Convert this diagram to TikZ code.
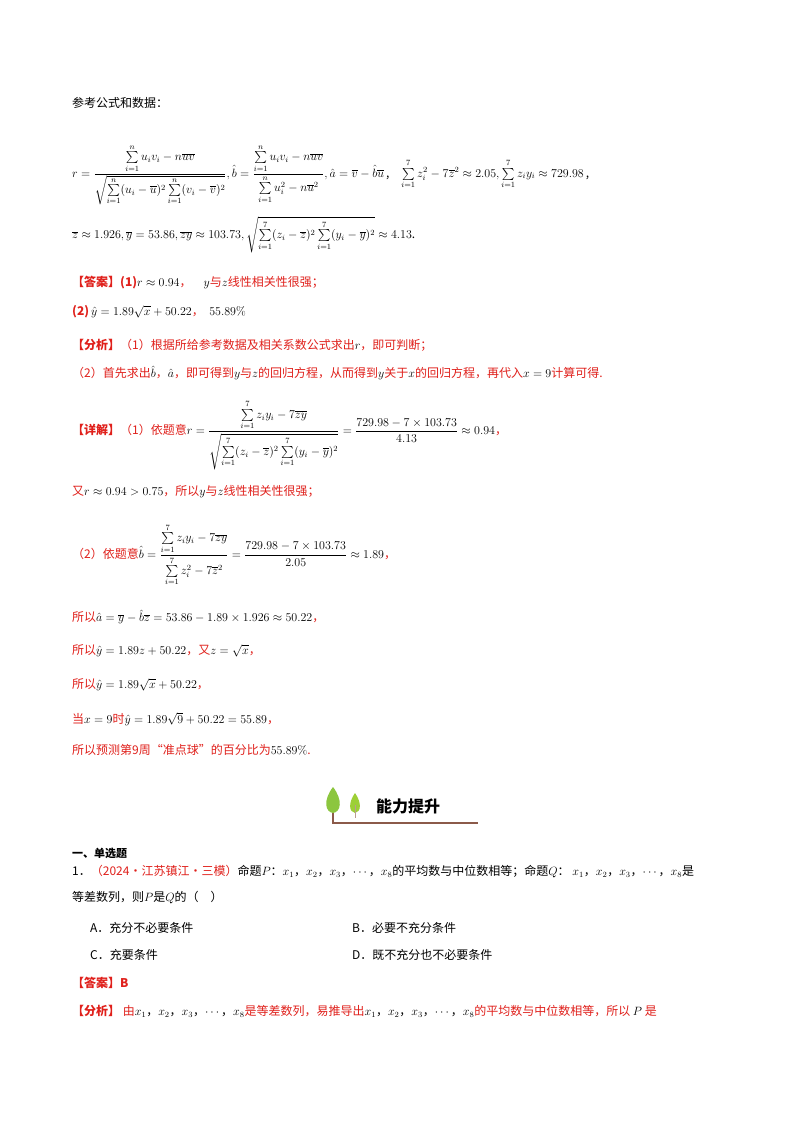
\documentclass[tikz,border=0pt]{standalone}
\usepackage{amsmath}
\usepackage[no-math]{fontspec}
\setmainfont{Noto Sans CJK SC}
\definecolor{rd}{HTML}{E0201B}
\definecolor{lf}{HTML}{8CC63F}
\definecolor{br}{HTML}{8B5A4A}
\begin{document}
\begin{tikzpicture}[x=1pt,y=-1pt,
  t/.style={anchor=west,inner sep=0pt,font=\fontsize{12}{14}\selectfont},
  r/.style={t,text=rd}]
\useasboundingbox (0,0) rectangle (800,1132);
\fill[white] (0,0) rectangle (800,1132);
\node[t] (l1) at (72,103) {参考公式和数据：};
\node[t] (f1) at (72,175) {$r=\dfrac{\sum\limits_{i=1}^{n}u_iv_i-n\overline{u}\overline{v}}{\sqrt{\sum\limits_{i=1}^{n}(u_i-\overline{u})^2\sum\limits_{i=1}^{n}(v_i-\overline{v})^2}},\hat b=\dfrac{\sum\limits_{i=1}^{n}u_iv_i-n\overline{u}\overline{v}}{\sum\limits_{i=1}^{n}u_i^2-n\overline{u}^2},\hat a=\overline{v}-\hat b\overline{u}$\,,\quad
$\sum\limits_{i=1}^{7}z_i^2-7\overline{z}^2\approx2.05,\sum\limits_{i=1}^{7}z_iy_i\approx729.98$\,,};
\node[t] (f2) at (72,235) {$\overline{z}\approx1.926,\overline{y}=53.86,\overline{zy}\approx103.73,\sqrt{\sum\limits_{i=1}^{7}(z_i-\overline{z})^2\sum\limits_{i=1}^{7}(y_i-\overline{y})^2}\approx4.13$.};
\node[r] (a1) at (72,283) {\textbf{【答案】(1)}\textcolor{black}{$r\approx0.94$}，\quad\textcolor{black}{$y$}与\textcolor{black}{$z$}线性相关性很强；};
\node[r] (a2) at (72,312) {\textbf{(2)}\,\textcolor{black}{$\hat y=1.89\sqrt{x}+50.22$}，\ \ \textcolor{black}{$55.89\%$}};
\node[r] (b1) at (72,345) {\textbf{【分析】}（1）根据所给参考数据及相关系数公式求出\textcolor{black}{$r$}，即可判断；};
\node[r] (b2) at (72,373) {（2）首先求出\textcolor{black}{$\hat b$}，\textcolor{black}{$\hat a$}，即可得到\textcolor{black}{$y$}与\textcolor{black}{$z$}的回归方程，从而得到\textcolor{black}{$y$}关于\textcolor{black}{$x$}的回归方程，再代入\textcolor{black}{$x=9$}计算可得.};
\node[r] (c1) at (72,435) {\textbf{【详解】}（1）依题意\textcolor{black}{$r=\dfrac{\sum\limits_{i=1}^{7}z_iy_i-7\overline{z}\overline{y}}{\sqrt{\sum\limits_{i=1}^{7}(z_i-\overline{z})^2\sum\limits_{i=1}^{7}(y_i-\overline{y})^2}}=\dfrac{729.98-7\times103.73}{4.13}\approx0.94$}，};
\node[r] (c2) at (72,492) {又\textcolor{black}{$r\approx0.94>0.75$}，所以\textcolor{black}{$y$}与\textcolor{black}{$z$}线性相关性很强；};
\node[r] (c3) at (72,555) {（2）依题意\textcolor{black}{$\hat b=\dfrac{\sum\limits_{i=1}^{7}z_iy_i-7\overline{z}\overline{y}}{\sum\limits_{i=1}^{7}z_i^2-7\overline{z}^2}=\dfrac{729.98-7\times103.73}{2.05}\approx1.89$}，};
\node[r] (c4) at (72,617) {所以\textcolor{black}{$\hat a=\overline{y}-\hat b\overline{z}=53.86-1.89\times1.926\approx50.22$}，};
\node[r] (c5) at (72,651) {所以\textcolor{black}{$\hat y=1.89z+50.22$}，又\textcolor{black}{$z=\sqrt{x}$}，};
\node[r] (c6) at (72,685) {所以\textcolor{black}{$\hat y=1.89\sqrt{x}+50.22$}，};
\node[r] (c7) at (72,719) {当\textcolor{black}{$x=9$}时\textcolor{black}{$\hat y=1.89\sqrt{9}+50.22=55.89$}，};
\node[r] (c8) at (72,750) {所以预测第9周“准点球”的百分比为\textcolor{black}{$55.89\%$}.};
% banner
\draw[br,line width=1.2pt] (333,795) -- (333,823) -- (478,823);
\fill[lf] (333,787) .. controls (323,800) and (325,812) .. (333,813) .. controls (341,812) and (343,800) .. (333,787);
\fill[lf!85!yellow] (355,793) .. controls (348,803) and (349,812) .. (355,813) .. controls (361,812) and (362,803) .. (355,793);
\draw[br!60,line width=0.8pt] (355,805) -- (355,818);
\node[t,font=\fontsize{16}{18}\selectfont\bfseries] (ban) at (376,806) {能力提升};
\node[t,font=\fontsize{11}{13}\selectfont\bfseries] (s1) at (72,853) {一、单选题};
\node[t] (q1) at (72,872) {1．\textcolor{rd}{（2024·江苏镇江·三模）}命题$P$：$x_1$，$x_2$，$x_3$，$\cdots$，$x_8$的平均数与中位数相等；命题$Q$：\ $x_1$，$x_2$，$x_3$，$\cdots$，$x_8$是};
\node[t] (q2) at (72,898) {等差数列，则$P$是$Q$的（\quad）};
\node[t] (oa) at (90,928) {A．充分不必要条件};
\node[t] (ob) at (352,928) {B．必要不充分条件};
\node[t] (oc) at (90,955) {C．充要条件};
\node[t] (od) at (352,955) {D．既不充分也不必要条件};
\node[r] (d1) at (72,983) {\textbf{【答案】B}};
\node[r] (d2) at (72,1011) {\textbf{【分析】}\ 由\textcolor{black}{$x_1$，$x_2$，$x_3$，$\cdots$，$x_8$}是等差数列，易推导出\textcolor{black}{$x_1$，$x_2$，$x_3$，$\cdots$，$x_8$}的平均数与中位数相等，所以\ \textcolor{black}{$P$}\ 是};
\end{tikzpicture}
\end{document}
